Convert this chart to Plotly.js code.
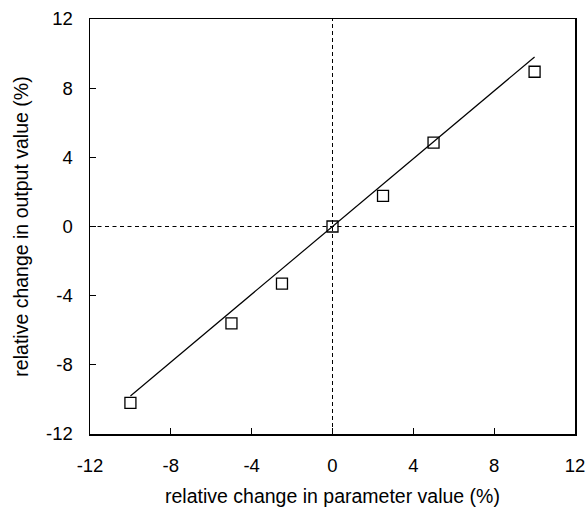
<!DOCTYPE html>
<html><head><meta charset="utf-8">
<script src="https://cdn.plot.ly/plotly-3.0.1.min.js"></script>
<style>body{margin:0;padding:0;background:#fff}#chart{width:587px;height:511px}</style>
</head><body><div id="chart"></div>
<script>
const paramChange = [-10, -5, -2.5, 0, 2.5, 5, 10];
const outputChange = [-10.2, -5.6, -3.3, 0, 1.77, 4.85, 8.95];
const fitX = [-10, 10];
const fitY = [-9.8, 9.8];
const tickVals = [-12, -8, -4, 0, 4, 8, 12];
const tickText = ['-12', '-8', '-4', '0', '4', '8', '12'];

const font = {family: 'Liberation Sans, Arial, sans-serif', color: '#000'};
const data = [
  {x: fitX, y: fitY, mode: 'lines', type: 'scatter', line: {color: '#000', width: 1.2}, hoverinfo: 'skip'},
  {x: paramChange, y: outputChange, mode: 'markers', type: 'scatter',
   marker: {symbol: 'square-open', size: 11, color: '#000', line: {width: 1.3, color: '#000'}}}
];
const axisCommon = {
  range: [-12, 12], tickmode: 'array', tickvals: tickVals, ticktext: tickText,
  ticks: 'inside', ticklen: 6, tickcolor: '#000', tickwidth: 1,
  showline: true, linecolor: '#000', linewidth: 1.5, mirror: true,
  showgrid: false, zeroline: false,
  tickfont: Object.assign({size: 18.5}, font)
};
const layout = {
  width: 587, height: 511,
  margin: {l: 90, r: 12, t: 19, b: 77},
  paper_bgcolor: '#fff', plot_bgcolor: '#fff',
  showlegend: false,
  xaxis: Object.assign({}, axisCommon, {ticklabelstandoff: 14, title: {text: 'relative change in parameter value (%)', font: Object.assign({size: 19.5}, font)}}),
  yaxis: Object.assign({}, axisCommon, {ticklabelstandoff: 12, automargin: 'left', title: {text: 'relative change in output value (%)', standoff: 12, font: Object.assign({size: 19.5}, font)}}),
  shapes: [
    {type: 'line', xref: 'x', yref: 'y', x0: 0, x1: 0, y0: -12, y1: 12, line: {color: '#000', width: 1, dash: '4px,3px'}, layer: 'below'},
    {type: 'line', xref: 'x', yref: 'y', x0: -12, x1: 12, y0: 0, y1: 0, line: {color: '#000', width: 1, dash: '4px,3.5px'}, layer: 'below'}
  ]
};
Plotly.newPlot('chart', data, layout, {displayModeBar: false, staticPlot: true});
</script></body></html>
